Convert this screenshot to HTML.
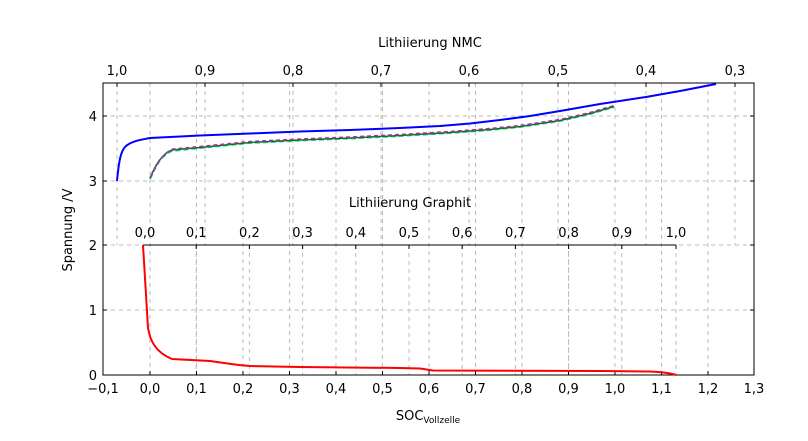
<!DOCTYPE html>
<html><head><meta charset="utf-8"><style>
body{margin:0;background:#fff}
svg text{font-family:"DejaVu Sans","Liberation Sans",sans-serif;font-size:13px;fill:#000}
</style></head><body>
<svg width="808" height="436" xmlns="http://www.w3.org/2000/svg">
<g stroke="#bbb" stroke-dasharray="4,4" stroke-width="1" fill="none">
<path d="M150,83V375M196.5,83V375M243,83V375M289.5,83V375M336,83V375M382.5,83V375M429,83V375M475.5,83V375M522,83V375M568.5,83V375M615,83V375M661.5,83V375M708,83V375"/>
<path d="M117,83V245M205,83V245M293,83V245M381,83V245M469,83V245M558,83V245M646,83V245M735,83V245"/>
<path d="M196.2,245V375M249.4,245V375M302.6,245V375M355.8,245V375M409,245V375M462.2,245V375M515.4,245V375M568.6,245V375M621.8,245V375M676,245V375"/>
<path d="M103,116H754M103,181H754M103,245H754M103,310H754"/>
</g>
<rect x="103" y="83" width="651" height="292" fill="none" stroke="#000" stroke-width="1"/>
<path d="M143,245H676" stroke="#000" stroke-width="1"/>
<g stroke="#000" stroke-width="1">
<path d="M103,375v-4M150,375v-4M196.5,375v-4M243,375v-4M289.5,375v-4M336,375v-4M382.5,375v-4M429,375v-4M475.5,375v-4M522,375v-4M568.5,375v-4M615,375v-4M661.5,375v-4M708,375v-4"/>
<path d="M117,83v4M205,83v4M293,83v4M381,83v4M469,83v4M558,83v4M646,83v4M735,83v4"/>
<path d="M143,245v4M196.2,245v4M249.4,245v4M302.6,245v4M355.8,245v4M409,245v4M462.2,245v4M515.4,245v4M568.6,245v4M621.8,245v4M676,245v4"/>
<path d="M103,116h4M103,181h4M103,245h4M103,310h4M754,116h-4M754,181h-4M754,245h-4M754,310h-4"/>
</g>
<path d="M117,181 C119,160 121,150 126,146 C132,141 140,140 150,138 L200,135.5 L250,133.5 L300,131.5 L350,130 L400,128 L440,126 L470,123.5 L500,120 L530,116 L560,111 L600,104 L646,97 L680,91 L716,84" fill="none" stroke="#0000ff" stroke-width="2"/>
<path d="M150,179 C156,165 162,155 172,151 L200,148 L250,143 L300,140.5 L350,138.5 L400,136 L450,133 L490,130 L520,127 L560,121 L590,114 L614,107" fill="none" stroke="#20c8c8" stroke-width="2" stroke-dasharray="5,3"/>
<path d="M150,178 C156,164 162,154 172,150 L200,147.5 L250,142.5 L300,140 L350,138 L400,135.5 L450,132.5 L490,129.5 L520,126.5 L560,120.5 L590,113.5 L614,106.5" fill="none" stroke="#008000" stroke-width="1.5"/>
<path d="M151,177 C157,163 163,153 173,149 L200,146.5 L250,141.5 L300,139 L350,137 L400,134.5 L450,131.5 L490,128.5 L520,125.5 L560,119.5 L590,112.5 L614,105.5" fill="none" stroke="#c020c0" stroke-width="1.5" stroke-dasharray="4,3"/>
<path d="M143,245 L148,328 C150,340 155,352 172,359 L210,361 C225,363 235,365 250,366 L300,367 L400,368 L420,368.5 C425,369 428,370 433,370.5 L600,371 L650,371.5 C662,372 670,373 676,375" fill="none" stroke="#ff0000" stroke-width="2"/>
<g text-anchor="middle">
<text x="103" y="393">−0,1</text><text x="150" y="393">0,0</text><text x="196.5" y="393">0,1</text><text x="243" y="393">0,2</text><text x="289.5" y="393">0,3</text><text x="336" y="393">0,4</text><text x="382.5" y="393">0,5</text><text x="429" y="393">0,6</text><text x="475.5" y="393">0,7</text><text x="522" y="393">0,8</text><text x="568.5" y="393">0,9</text><text x="615" y="393">1,0</text><text x="661.5" y="393">1,1</text><text x="708" y="393">1,2</text><text x="754" y="393">1,3</text>
<text x="117" y="75">1,0</text><text x="205" y="75">0,9</text><text x="293" y="75">0,8</text><text x="381" y="75">0,7</text><text x="469" y="75">0,6</text><text x="558" y="75">0,5</text><text x="646" y="75">0,4</text><text x="735" y="75">0,3</text>
<text x="145" y="237">0,0</text><text x="196.2" y="237">0,1</text><text x="249.4" y="237">0,2</text><text x="302.6" y="237">0,3</text><text x="355.8" y="237">0,4</text><text x="409" y="237">0,5</text><text x="462.2" y="237">0,6</text><text x="515.4" y="237">0,7</text><text x="568.6" y="237">0,8</text><text x="621.8" y="237">0,9</text><text x="676" y="237">1,0</text>
<text x="430" y="47">Lithiierung NMC</text>
<text x="410" y="207">Lithiierung Graphit</text>
<text x="428" y="420">SOC<tspan font-size="9" dy="3">Vollzelle</tspan></text>
<text transform="translate(72,230) rotate(-90)">Spannung /V</text>
</g>
<g text-anchor="end">
<text x="97" y="380">0</text><text x="97" y="315">1</text><text x="97" y="250">2</text><text x="97" y="186">3</text><text x="97" y="121">4</text>
</g>
</svg>
</body></html>
